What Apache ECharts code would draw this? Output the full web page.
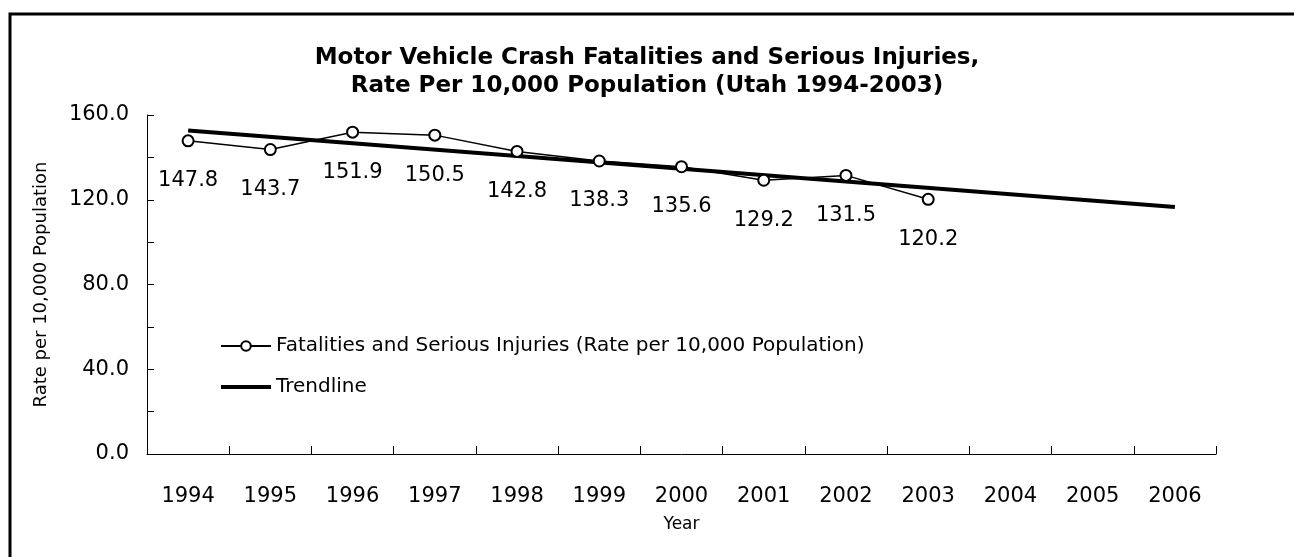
<!DOCTYPE html>
<html>
<head>
    <meta charset="utf-8">
    <script src="https://cdn.jsdelivr.net/npm/echarts@6/dist/echarts.min.js"></script>
    <style>body{margin:0;background:#fff;}</style>
</head>
<body>
<div id="main" style="width:1294px;height:557px;"></div>
<script type="text/javascript">
    var years = ['1994','1995','1996','1997','1998','1999','2000','2001','2002','2003','2004','2005','2006'];
    var rates = [147.8, 143.7, 151.9, 150.5, 142.8, 138.3, 135.6, 129.2, 131.5, 120.2];
    // trendline end points
    var trendYears = ['1994', '2006'];
    var trendValues = [152.7, 116.6];

    var font = 'DejaVu Sans';
    var seriesName = 'Fatalities and Serious Injuries (Rate per 10,000 Population)';
    var myChart = echarts.init(document.getElementById('main'));

    var option = {
        animation: false,
        title: {
            text: 'Motor Vehicle Crash Fatalities and Serious Injuries,\nRate Per 10,000 Population (Utah 1994-2003)',
            left: 'center',
            top: 39,
            textStyle: {fontFamily: font, fontSize: 23, fontWeight: 'bold', color: '#000', lineHeight: 28}
        },
        graphic: [{
            type: 'rect',
            shape: {x: 10, y: 14, width: 1400, height: 700},
            style: {fill: 'none', stroke: '#000', lineWidth: 3}
        }],
        legend: {
            orient: 'vertical',
            left: 215,
            top: 331,
            itemWidth: 50,
            itemHeight: 12,
            itemGap: 21,
            textStyle: {fontFamily: font, fontSize: 20, color: '#000'},
            data: [
                {name: seriesName},
                {name: 'Trendline', icon: 'path://M0,0H50V4H0Z'}
            ]
        },
        grid: {left: 147, right: 78, top: 115, bottom: 103},
        xAxis: {
            type: 'category',
            data: years,
            name: 'Year',
            nameLocation: 'middle',
            nameGap: 62,
            nameTextStyle: {fontFamily: font, fontSize: 17, color: '#000'},
            axisLine: {show: true, lineStyle: {color: '#000', width: 1}},
            axisTick: {show: true, inside: true, length: 8, lineStyle: {color: '#000'}},
            axisLabel: {fontFamily: font, fontSize: 21, color: '#000', margin: 32}
        },
        yAxis: {
            type: 'value',
            min: 0,
            max: 160,
            interval: 20,
            name: 'Rate per 10,000 Population',
            nameLocation: 'middle',
            nameGap: 97,
            nameTextStyle: {fontFamily: font, fontSize: 18, color: '#000'},
            axisLine: {show: true, lineStyle: {color: '#000', width: 1}},
            axisTick: {show: true, inside: true, length: 7, lineStyle: {color: '#000'}},
            splitLine: {show: false},
            axisLabel: {
                fontFamily: font, fontSize: 21, color: '#000', margin: 18,
                formatter: function (v) { return v % 40 === 0 ? v.toFixed(1) : ''; }
            }
        },
        series: [{
            name: seriesName,
            type: 'line',
            data: rates,
            symbol: 'emptyCircle',
            symbolSize: 11,
            lineStyle: {color: '#000', width: 1.5},
            itemStyle: {color: '#000', borderColor: '#000', borderWidth: 2},
            label: {
                show: true,
                position: 'bottom',
                distance: 23,
                fontFamily: font,
                fontSize: 21,
                color: '#000',
                formatter: function (p) { return p.value.toFixed(1); }
            },
            z: 3
        }, {
            name: 'Trendline',
            type: 'line',
            data: [[trendYears[0], trendValues[0]], [trendYears[1], trendValues[1]]],
            symbol: 'none',
            lineStyle: {color: '#000', width: 4},
            itemStyle: {color: '#000'},
            z: 2
        }]
    };

    myChart.setOption(option);
</script>
</body>
</html>
